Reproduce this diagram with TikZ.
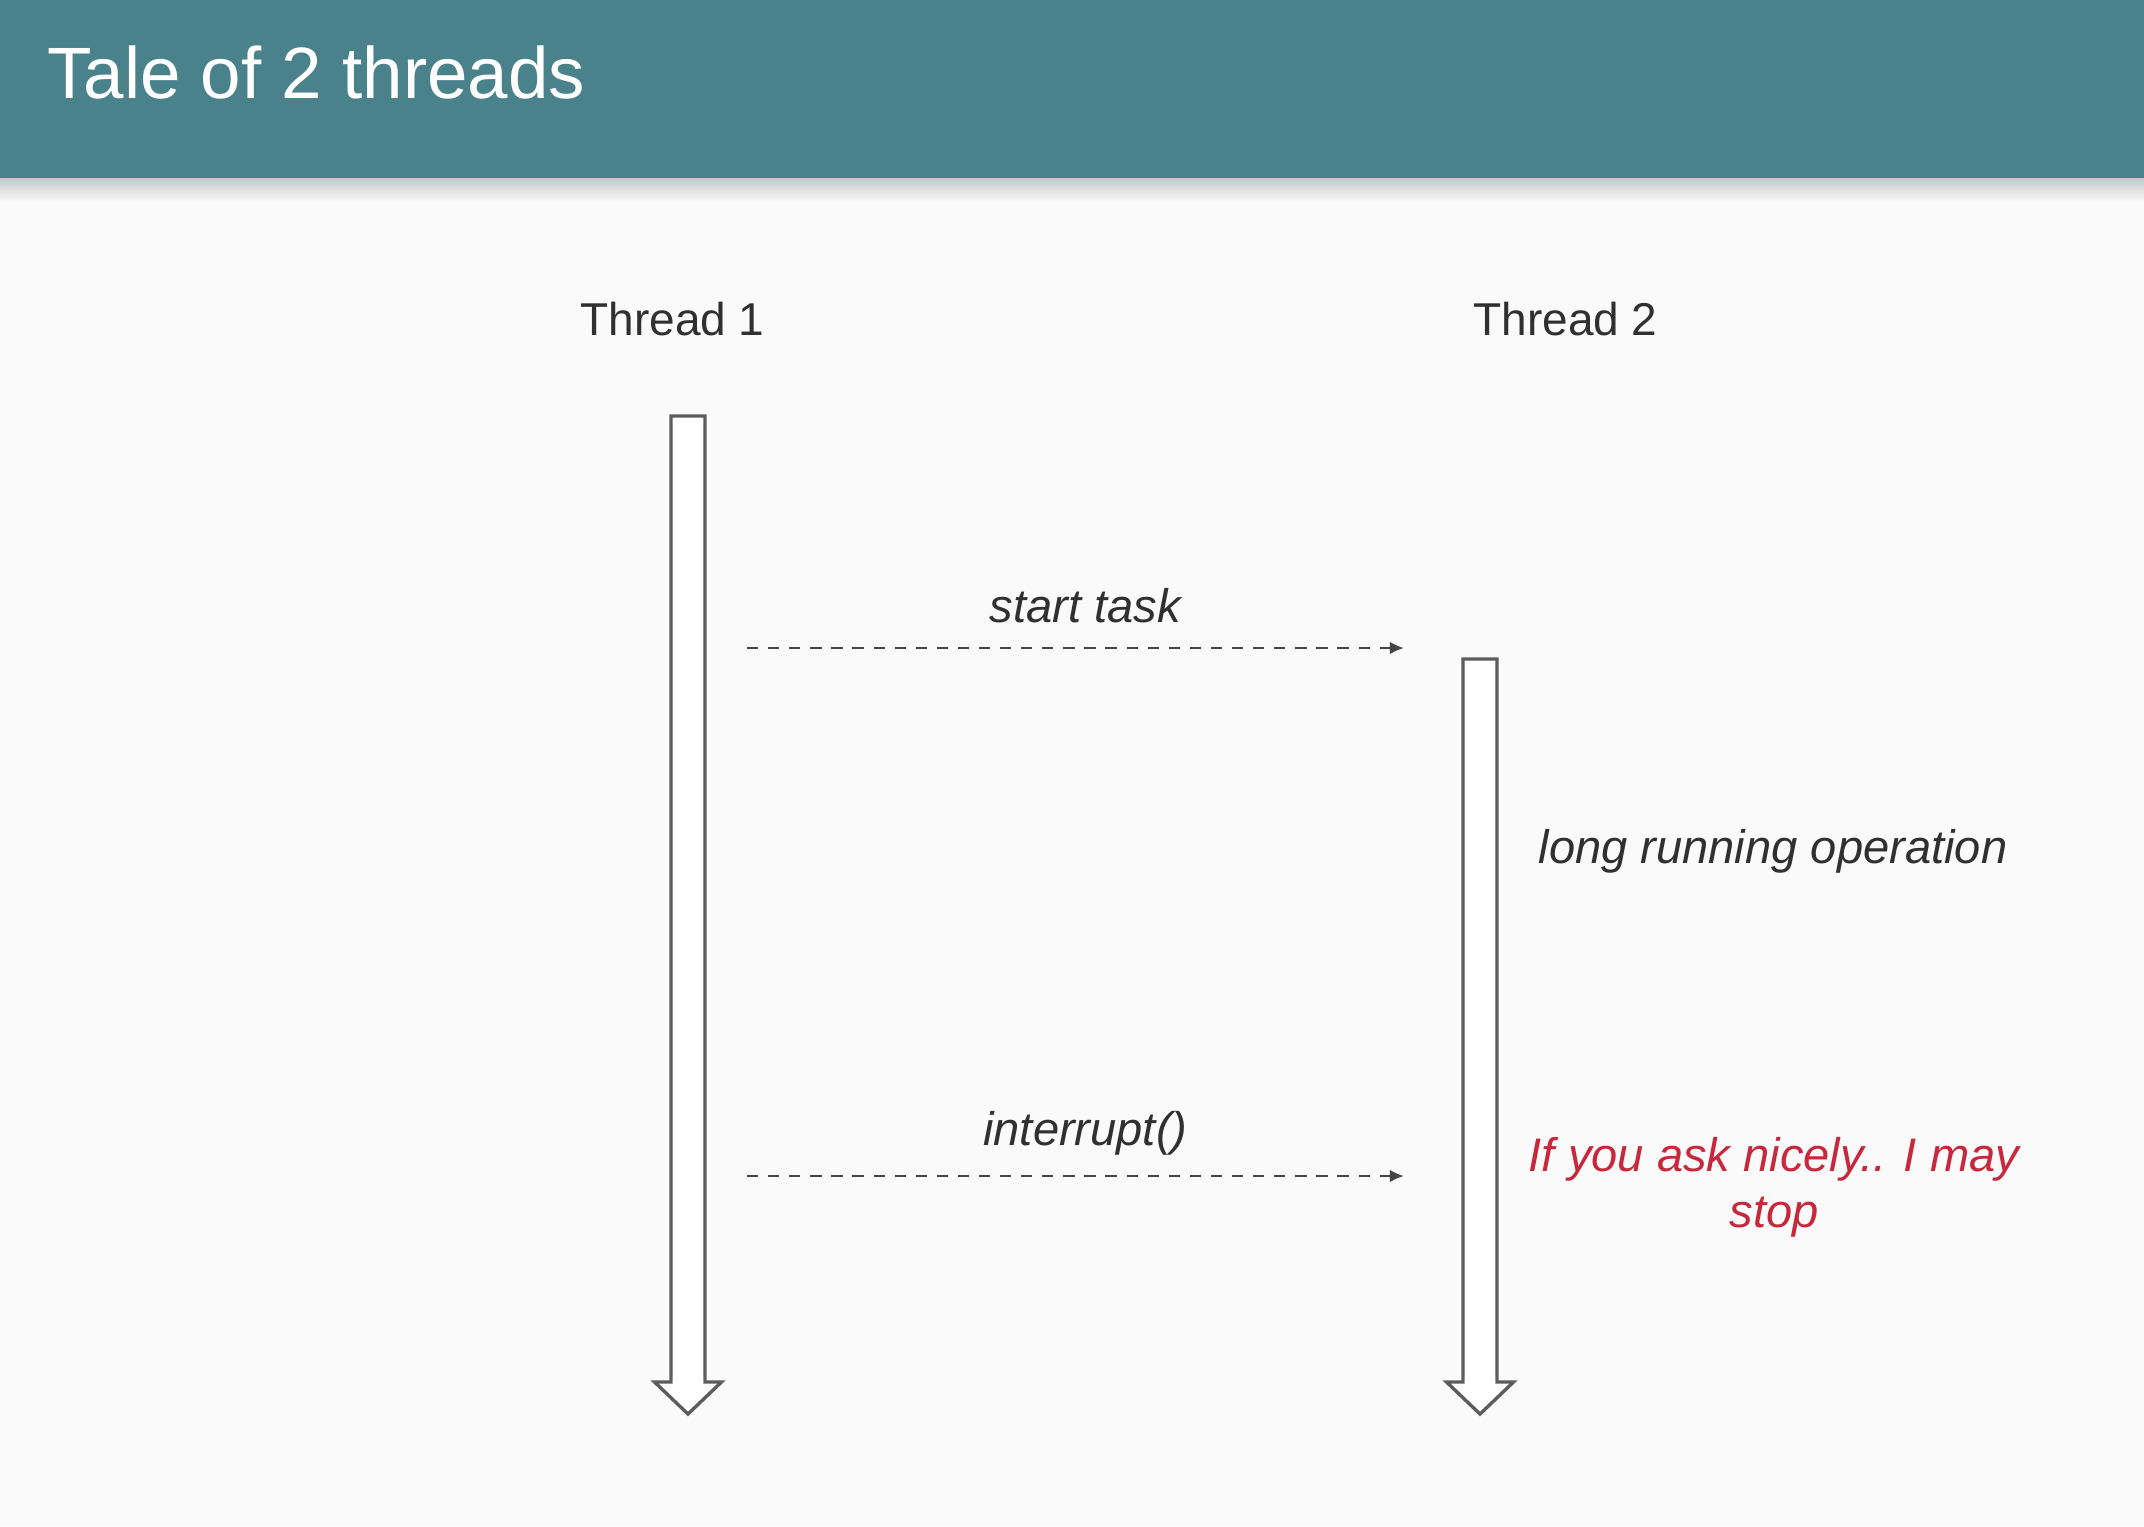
\documentclass[tikz,border=0pt]{standalone}
\usepackage{fontspec}
\setmainfont{Liberation Sans}
\usepackage{xcolor}
\usetikzlibrary{arrows.meta,positioning}

\definecolor{headteal}{HTML}{4A828C}
\definecolor{slidebg}{HTML}{FAFAFA}
\definecolor{inkgray}{HTML}{303030}
\definecolor{linegray}{HTML}{5C5C5C}
\definecolor{warnred}{HTML}{C8283C}

% block arrow of a thread, from its top to its tip
\newcommand{\threadarrow}[2]{%
	\draw[threadbody] ([xshift=-0.17cm]#1) -- ([xshift=0.17cm]#1)
	-- ([xshift=0.17cm,yshift=0.32cm]#2) -- ([xshift=0.335cm,yshift=0.32cm]#2)
	-- (#2) -- ([xshift=-0.335cm,yshift=0.32cm]#2)
	-- ([xshift=-0.17cm,yshift=0.32cm]#2) -- cycle;}

\begin{document}
\begin{tikzpicture}[
	threadbody/.style={draw=linegray,line width=0.95pt,fill=white,line join=miter},
	msg/.style={draw=inkgray!90,line width=0.8pt,dash pattern=on 3.2pt off 2.8pt,
		-{Latex[length=4pt,width=3.6pt]}},
	thread/.style={text=inkgray,font=\fontsize{13.1}{16}\selectfont,inner sep=0pt,anchor=base},
	lbl/.style={text=inkgray,font=\fontsize{13.4}{16}\selectfont\itshape,inner sep=0pt,anchor=base}]
	% slide
	\useasboundingbox (0,0) rectangle (21.44,-15.26);
	\fill[slidebg] (0,0) rectangle (21.44,-15.26);
	\shade[top color=black!22,bottom color=slidebg] (0,-1.78) rectangle (21.44,-2.02);
	\fill[headteal] (0,0) rectangle (21.44,-1.78);
	\node[anchor=base west,text=white,font=\fontsize{20.7}{24}\selectfont,inner sep=0pt]
		(title) at (0.465,-0.98) {Tale of 2 threads};
	% nodes
	\node[thread] (T1) at (6.725,-3.35) {Thread 1};
	\node[thread] (T2) at (15.655,-3.35) {Thread 2};
	\coordinate (T1top) at (6.88,-4.16);
	\coordinate (T1tip) at (6.88,-14.14);
	\coordinate (T2top) at (14.80,-6.59);
	\coordinate (T2tip) at (14.80,-14.14);
	\coordinate (S1) at (7.47,-6.48);
	\coordinate (S2) at (14.04,-6.48);
	\coordinate (I1) at (7.47,-11.76);
	\coordinate (I2) at (14.04,-11.76);
	%
	\threadarrow{T1top}{T1tip}
	\threadarrow{T2top}{T2tip}
	% messages
	\draw[msg] (S1) -- node[lbl,pos=0.515,yshift=0.26cm]{start task} (S2);
	\draw[msg] (I1) -- node[lbl,pos=0.515,yshift=0.31cm]{interrupt()} (I2);
	% notes
	\node[lbl] (run) at (17.73,-8.63) {long running operation};
	\node[lbl,text=warnred,align=center,anchor=north,font=\fontsize{13.4}{15.9}\selectfont\itshape]
		(ask) at (17.74,-11.37) {If you ask nicely.. I may\\stop};
\end{tikzpicture}
\end{document}
